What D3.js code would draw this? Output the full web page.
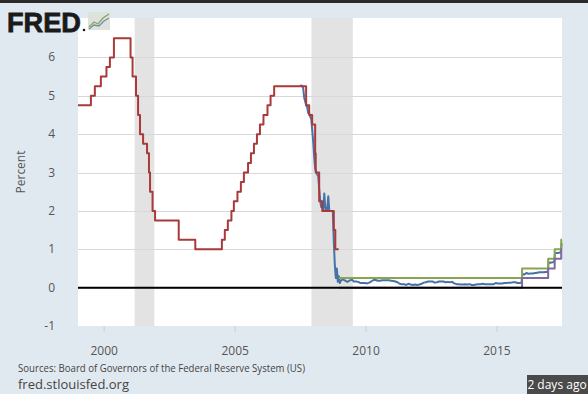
<!DOCTYPE html>
<meta charset="utf-8">
<style>
body { margin: 0; background: #e1e9f0; }
svg { font-family: "Open Sans", sans-serif; display: block; }
.grid line { stroke: #d8d8d8; stroke-width: 1; }
.tick-label { font-size: 12px; fill: #555; }
.series { fill: none; stroke-width: 2; stroke-linejoin: round; }
</style>
<body>
<script src="https://cdn.jsdelivr.net/npm/d3@7"></script>
<script>
var w = 588, h = 394,
    plotLeft = 78, plotRight = 562, plotTop = 19, plotBottom = 326;

// recessions (start, end)
var recessions = [["2001-03-01", "2001-11-30"], ["2007-12-01", "2009-06-30"]];

// federal funds target rate (step changes)
var targetDates = ["1999-01-01","1999-06-30","1999-08-24","1999-11-16","2000-02-02","2000-03-21","2000-05-16",
  "2001-01-03","2001-01-31","2001-03-20","2001-04-18","2001-05-15","2001-06-27","2001-08-21","2001-09-17",
  "2001-10-02","2001-11-06","2001-12-11","2002-11-06","2003-06-25","2004-06-30","2004-08-10","2004-09-21",
  "2004-11-10","2004-12-14","2005-02-02","2005-03-22","2005-05-03","2005-06-30","2005-08-09","2005-09-20",
  "2005-11-01","2005-12-13","2006-01-31","2006-03-28","2006-05-10","2006-06-29","2007-09-18","2007-10-31",
  "2007-12-11","2008-01-22","2008-01-30","2008-03-18","2008-04-30","2008-10-08","2008-10-29","2008-12-15"];
var targetValues = [4.75,5.00,5.25,5.50,5.75,6.00,6.50,
  6.00,5.50,5.00,4.50,4.00,3.75,3.50,3.00,
  2.50,2.00,1.75,1.25,1.00,1.25,1.50,1.75,
  2.00,2.25,2.50,2.75,3.00,3.25,3.50,3.75,
  4.00,4.25,4.50,4.75,5.00,5.25,4.75,4.50,
  4.25,3.50,3.00,2.25,2.00,1.50,1.00,1.00];

// effective federal funds rate
var effDates = ["2007-06-27","2007-07-25","2007-08-08","2007-08-22","2007-09-05","2007-09-19","2007-10-03",
  "2007-10-17","2007-10-31","2007-11-14","2007-11-28","2007-12-12","2007-12-26","2008-01-09","2008-01-23",
  "2008-02-06","2008-02-20","2008-03-05","2008-03-19","2008-04-02","2008-04-16","2008-04-30","2008-05-14",
  "2008-05-28","2008-06-11","2008-06-25","2008-07-09","2008-07-23","2008-08-06","2008-08-20","2008-09-03",
  "2008-09-24","2008-10-08","2008-10-22","2008-11-05","2008-11-19","2008-12-03","2008-12-17","2008-12-31",
  "2009-01-14","2009-02-15","2009-03-15","2009-04-15","2009-05-15","2009-06-15","2009-07-15","2009-08-15",
  "2009-09-15","2009-10-15","2009-11-15","2009-12-15","2010-01-15","2010-02-15","2010-03-15","2010-04-15",
  "2010-05-15","2010-06-15","2010-07-15","2010-08-15","2010-09-15","2010-10-15","2010-11-15","2010-12-15",
  "2011-01-15","2011-02-15","2011-03-15","2011-04-15","2011-05-15","2011-06-15","2011-07-15","2011-08-15",
  "2011-09-15","2011-10-15","2011-11-15","2011-12-15","2012-01-15","2012-02-15","2012-03-15","2012-04-15",
  "2012-05-15","2012-06-15","2012-07-15","2012-08-15","2012-09-15","2012-10-15","2012-11-15","2012-12-15",
  "2013-01-15","2013-02-15","2013-03-15","2013-04-15","2013-05-15","2013-06-15","2013-07-15","2013-08-15",
  "2013-09-15","2013-10-15","2013-11-15","2013-12-15","2014-01-15","2014-02-15","2014-03-15","2014-04-15",
  "2014-05-15","2014-06-15","2014-07-15","2014-08-15","2014-09-15","2014-10-15","2014-11-15","2014-12-15",
  "2015-01-15","2015-02-15","2015-03-15","2015-04-15","2015-05-15","2015-06-15","2015-07-15","2015-08-15",
  "2015-09-15","2015-10-15","2015-11-15","2015-12-10","2015-12-20","2016-01-15","2016-02-15","2016-03-15",
  "2016-04-15","2016-05-15","2016-06-15","2016-07-15","2016-08-15","2016-09-15","2016-10-15","2016-11-15",
  "2016-12-10","2016-12-20","2017-01-15","2017-02-15","2017-03-10","2017-03-20","2017-04-15","2017-05-15",
  "2017-06-10","2017-06-20","2017-06-26"];
var effValues = [5.27,5.26,5.20,4.95,4.85,4.75,4.70,
  4.55,4.55,4.45,4.40,4.10,3.80,3.40,3.10,
  3.00,2.95,2.90,2.55,2.25,2.10,2.20,2.00,
  2.45,2.10,2.00,2.05,2.38,2.00,2.00,2.00,
  2.00,1.20,0.60,0.25,0.50,0.15,0.30,0.12,
  0.18,0.22,0.18,0.15,0.18,0.21,0.16,0.16,
  0.15,0.12,0.12,0.12,0.11,0.13,0.16,0.20,
  0.20,0.18,0.18,0.19,0.19,0.19,0.19,0.18,
  0.17,0.16,0.14,0.10,0.09,0.09,0.07,0.10,
  0.08,0.07,0.08,0.07,0.08,0.10,0.13,0.14,
  0.16,0.16,0.16,0.13,0.14,0.16,0.16,0.16,
  0.14,0.15,0.14,0.15,0.11,0.09,0.09,0.08,
  0.08,0.09,0.08,0.09,0.07,0.07,0.08,0.09,
  0.09,0.10,0.09,0.09,0.09,0.09,0.09,0.12,
  0.11,0.11,0.11,0.12,0.12,0.13,0.13,0.14,
  0.14,0.12,0.12,0.13,0.36,0.34,0.38,0.36,
  0.37,0.37,0.38,0.39,0.40,0.40,0.40,0.41,
  0.41,0.66,0.65,0.66,0.67,0.90,0.90,0.91,
  0.92,1.15,1.16];

// target range, upper and lower limits
var rangeDates = ["2008-12-16","2015-12-17","2016-12-15","2017-03-16","2017-06-15","2017-06-26"];
var upperValues = [0.25,0.50,0.75,1.00,1.25,1.25];
var lowerValues = [0.00,0.25,0.50,0.75,1.00,1.00];

var yTicks = [-1,0,1,2,3,4,5,6];
var xTicks = [2000,2005,2010,2015];

var parse = d3.timeParse("%Y-%m-%d");
function pairs(dates, values) {
  return dates.map(function(d, i) { return { date: parse(d), value: values[i] }; });
}

var x = d3.scaleTime()
    .domain([parse("1999-01-01"), parse("2017-06-26")])
    .range([plotLeft, plotRight]);
var y = d3.scaleLinear().domain([-1, 7]).range([plotBottom, plotTop]);

var svg = d3.select("body").append("svg")
    .attr("width", w)
    .attr("height", h);

/* top strip */
svg.append("rect").attr("width", w).attr("height", 3).attr("fill", "#2b2b2b");

/* plot area */
svg.append("rect")
    .attr("x", plotLeft).attr("y", plotTop - 1)
    .attr("width", plotRight - plotLeft).attr("height", plotBottom - plotTop + 1)
    .attr("fill", "#fff");

svg.selectAll("rect.recession")
    .data(recessions)
  .enter().append("rect")
    .attr("class", "recession")
    .attr("x", function(d) { return x(parse(d[0])); })
    .attr("width", function(d) { return x(parse(d[1])) - x(parse(d[0])); })
    .attr("y", plotTop - 1)
    .attr("height", plotBottom - plotTop + 1)
    .attr("fill", "#e3e3e3");

/* gridlines */
svg.append("g").attr("class", "grid")
  .selectAll("line")
    .data(yTicks.filter(function(t) { return t > -1; }))
  .enter().append("line")
    .attr("x1", plotLeft).attr("x2", plotRight)
    .attr("y1", function(d) { return Math.round(y(d)) + 0.5; })
    .attr("y2", function(d) { return Math.round(y(d)) + 0.5; });

/* y labels */
svg.selectAll("text.ylab")
    .data(yTicks)
  .enter().append("text")
    .attr("class", "tick-label ylab")
    .attr("x", 55)
    .attr("y", function(d) { return y(d) + 4; })
    .attr("text-anchor", "end")
    .text(function(d) { return d; });

svg.append("text")
    .attr("class", "tick-label")
    .attr("transform", "translate(25,172) rotate(-90)")
    .attr("text-anchor", "middle")
    .text("Percent");

/* x ticks and labels */
var xt = svg.selectAll("g.xtick")
    .data(xTicks)
  .enter().append("g")
    .attr("class", "xtick")
    .attr("transform", function(d) { return "translate(" + x(new Date(d, 0, 1)) + ",0)"; });
xt.append("line")
    .attr("y1", plotBottom).attr("y2", plotBottom + 6)
    .attr("stroke", "#c0d0e0");
xt.append("text")
    .attr("class", "tick-label")
    .attr("y", 355)
    .attr("text-anchor", "middle")
    .text(function(d) { return d; });

/* series */
var stepLine = d3.line()
    .curve(d3.curveStepAfter)
    .x(function(d) { return x(d.date); })
    .y(function(d) { return y(d.value); });
var plainLine = d3.line()
    .x(function(d) { return x(d.date); })
    .y(function(d) { return y(d.value); });

svg.append("path").attr("class", "series")
    .attr("d", plainLine(pairs(effDates, effValues)))
    .attr("stroke", "#4572a7");
svg.append("path").attr("class", "series")
    .attr("d", stepLine(pairs(targetDates, targetValues)))
    .attr("stroke", "#aa3a3a");
svg.append("path").attr("class", "series")
    .attr("d", stepLine(pairs(rangeDates, upperValues)))
    .attr("stroke", "#89a54e");
svg.append("path").attr("class", "series")
    .attr("d", stepLine(pairs(rangeDates, lowerValues)))
    .attr("stroke", "#80699b");

/* zero line */
svg.append("line")
    .attr("x1", plotLeft).attr("x2", plotRight)
    .attr("y1", y(0)).attr("y2", y(0))
    .attr("stroke", "#000").attr("stroke-width", 2);

/* logo, drawn over the plot corner */
svg.append("text")
    .attr("x", 7).attr("y", 32)
    .attr("font-family", "'Liberation Sans', Arial, sans-serif")
    .attr("font-weight", "bold")
    .attr("font-size", 28)
    .attr("textLength", 74)
    .attr("lengthAdjust", "spacingAndGlyphs")
    .attr("stroke", "#1a1a1a")
    .attr("stroke-width", 0.8)
    .attr("fill", "#1a1a1a")
    .text("FRED");
svg.append("circle").attr("cx", 84).attr("cy", 30).attr("r", 1.3).attr("fill", "#1a1a1a");
var logo = svg.append("g").attr("transform", "translate(88,12)");
logo.append("rect").attr("width", 22).attr("height", 18).attr("fill", "#dde2da");
logo.append("polyline").attr("points", "1,15 6,10 10,12 15,6 21,2")
    .attr("fill", "none").attr("stroke", "#8aa35a").attr("stroke-width", 1.3);
logo.append("polyline").attr("points", "1,17 6,13 11,14 16,9 21,6")
    .attr("fill", "none").attr("stroke", "#6e8fb5").attr("stroke-width", 1.3);

/* footer */
svg.append("text")
    .attr("x", 18).attr("y", 372)
    .attr("font-size", 11)
    .attr("fill", "#444")
    .attr("textLength", 287)
    .attr("lengthAdjust", "spacingAndGlyphs")
    .text("Sources: Board of Governors of the Federal Reserve System (US)");
svg.append("text")
    .attr("x", 18).attr("y", 389)
    .attr("font-size", 13)
    .attr("fill", "#444")
    .text("fred.stlouisfed.org");

svg.append("rect")
    .attr("x", 527).attr("y", 375)
    .attr("width", 61).attr("height", 19)
    .attr("fill", "#4a4a4a");
svg.append("text")
    .attr("x", 557).attr("y", 389)
    .attr("text-anchor", "middle")
    .attr("font-size", 12)
    .attr("fill", "#fff")
    .text("2 days ago");
</script>
</body>
